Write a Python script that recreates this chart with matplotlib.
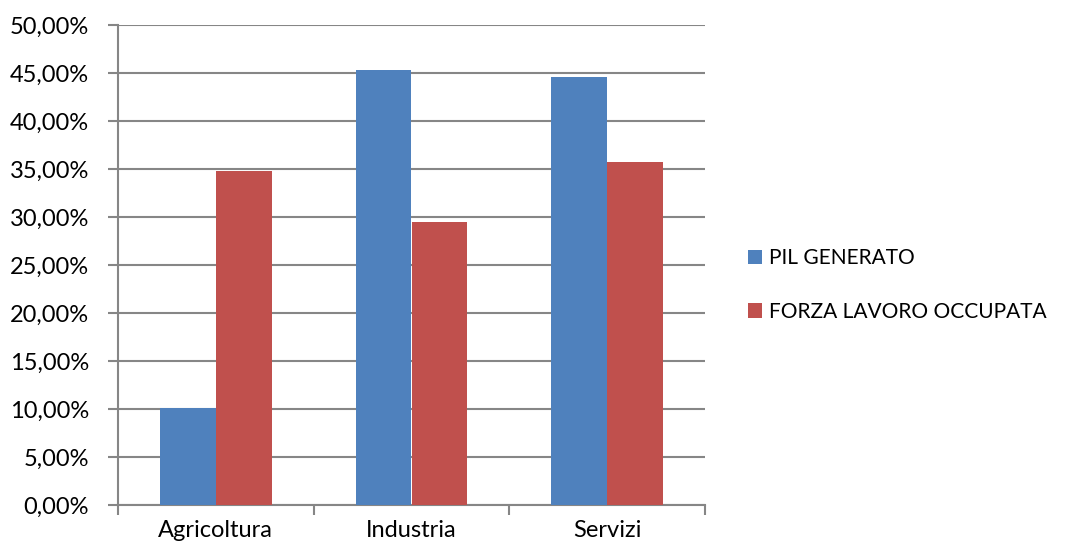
import matplotlib
matplotlib.use("Agg")
import matplotlib.pyplot as plt
import matplotlib.ticker as ticker
import numpy as np

categories = ["Agricoltura", "Industria", "Servizi"]
pil_generato = [10.1, 45.3, 44.6]
forza_lavoro = [34.8, 29.5, 35.7]
series_names = ["PIL GENERATO", "FORZA LAVORO OCCUPATA"]

plt.rcParams["font.family"] = ["Lato", "DejaVu Sans"]

fig = plt.figure(figsize=(10.65, 5.48), dpi=100)
ax = fig.add_axes([118 / 1065, 43 / 548, 587 / 1065, 480 / 548])

grid_color = "#868686"
bar_w = 1 / 3.5
x = np.arange(len(categories))
ax.bar(x - bar_w / 2, pil_generato, bar_w, color="#4F81BD", label=series_names[0], zorder=3)
ax.bar(x + bar_w / 2, forza_lavoro, bar_w, color="#C0504D", label=series_names[1], zorder=3)

ax.set_xlim(-0.5, len(categories) - 0.5)
ax.set_ylim(0, 50)
ax.yaxis.set_major_locator(ticker.MultipleLocator(5))
ax.yaxis.set_major_formatter(ticker.FuncFormatter(lambda v, pos: f"{v:.2f}%".replace(".", ",")))
ax.grid(True, axis="y", color=grid_color, linewidth=1.5, zorder=0)

# category labels centred, tick marks on the boundaries
ax.set_xticks(x)
ax.set_xticklabels(categories)
ax.set_xticks(np.arange(len(categories) + 1) - 0.5, minor=True)
ax.tick_params(axis="x", which="major", length=0, pad=11, labelsize=17, colors="black")
ax.tick_params(axis="x", which="minor", length=7, width=1.5, color=grid_color)
ax.tick_params(axis="y", length=7, width=1.5, color=grid_color, labelsize=17, pad=14)

for side in ["top", "right"]:
    ax.spines[side].set_visible(False)
for side in ["left", "bottom"]:
    ax.spines[side].set_color(grid_color)
    ax.spines[side].set_linewidth(1.5)

ax.legend(loc="center left", bbox_to_anchor=(729 / 1065, 263 / 548),
          bbox_transform=fig.transFigure, frameon=False, fontsize=15,
          handlelength=0.7, handleheight=0.7, handletextpad=0.3, labelspacing=1.6)

fig.savefig("out.png", dpi=100)
